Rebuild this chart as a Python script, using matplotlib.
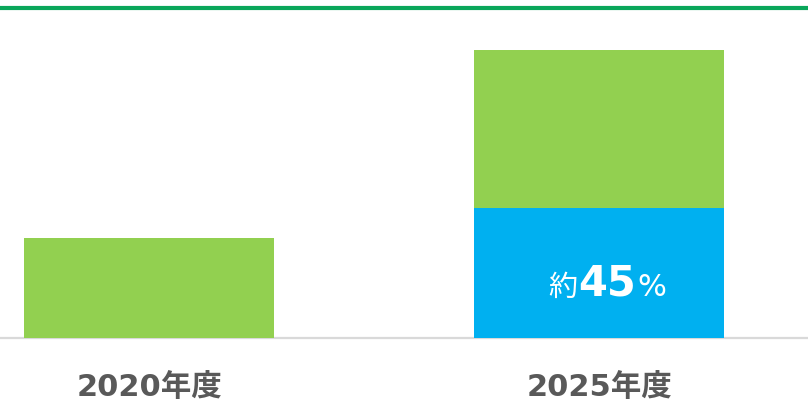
import matplotlib
matplotlib.use("Agg")
import matplotlib.pyplot as plt
from matplotlib.lines import Line2D
from matplotlib.offsetbox import TextArea, HPacker, AnnotationBbox

# Data
categories = ["2020年度", "2025年度"]
totals = [100, 288]            # index, 2020 bar height relative to 2025
share_labels = [None, 45]      # percent share shown inside the bar (約45%)

GREEN = "#92D050"
BLUE = "#00B0F0"
RULE = "#0AA65A"
GRAY_TXT = "#595959"

plt.rcParams["font.family"] = ["DejaVu Sans", "Noto Sans CJK JP"]

W, H = 808, 402
fig = plt.figure(figsize=(W / 100, H / 100), dpi=100)
fig.patch.set_facecolor("white")

base_px = 63  # baseline distance from bottom of figure
ax = fig.add_axes([0, base_px / H, 1, max(totals) / H])
ax.set_ylim(0, max(totals))

spacing = 450
center0 = 149
bar_w = 250 / spacing
ax.set_xlim(-center0 / spacing, (W - center0) / spacing)

xs = list(range(len(categories)))
for x, tot, sh in zip(xs, totals, share_labels):
    if sh is None:
        ax.bar(x, tot, width=bar_w, color=GREEN, zorder=3)
    else:
        part = tot * sh / 100
        ax.bar(x, part, width=bar_w, color=BLUE, zorder=3)
        ax.bar(x, tot - part, bottom=part, width=bar_w, color=GREEN, zorder=3)
        pieces = [
            TextArea("約", textprops=dict(color="white", fontsize=21,
                                           family=["Noto Sans CJK JP"])),
            TextArea(f"{sh}", textprops=dict(color="white", fontsize=30,
                                             fontweight="bold")),
            TextArea("%", textprops=dict(color="white", fontsize=22,
                                         family=["DejaVu Sans"])),
        ]
        box = HPacker(children=pieces, align="baseline", pad=0, sep=1)
        ab = AnnotationBbox(box, (x, part / 2), xybox=(6, -7),
                            xycoords="data", boxcoords="offset points",
                            frameon=False, box_alignment=(0.5, 0.5), zorder=5)
        ax.add_artist(ab)

# baseline
ax.axhline(0, color="#D9D9D9", lw=1.6, zorder=2, clip_on=False)

# category labels below the baseline
for x, lab in zip(xs, categories):
    ax.annotate(lab, (x, 0), xytext=(0, -35), textcoords="offset points",
                ha="center", va="center", fontsize=22, fontweight="bold",
                color=GRAY_TXT, annotation_clip=False)

ax.axis("off")

# green rule across the top
fig.add_artist(Line2D([0, 1], [1 - 9 / H, 1 - 9 / H], transform=fig.transFigure,
                      color=RULE, lw=3))

fig.savefig("out.png", dpi=100, facecolor="white")
